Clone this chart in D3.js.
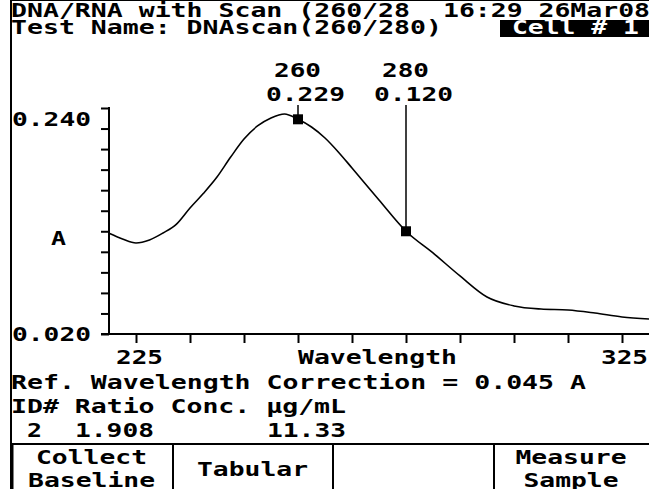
<!DOCTYPE html>
<html>
<head>
<meta charset="utf-8">
<script src="https://cdn.jsdelivr.net/npm/d3@7"></script>
<style>
  body { margin: 0; background: #fff; }
  svg { display: block; }
  text { font-family: "DejaVu Sans Mono", monospace; font-weight: bold; font-size: 20px; fill: #000; }
</style>
</head>
<body>
<div class="chart"></div>
<script>
// UV scan of a DNA/RNA sample: absorbance vs wavelength, instrument screen look

var svgWidth = 649;
var svgHeight = 489;

// scan data
var wavelengths = [225, 227.5, 230, 232.5, 235, 237.5, 240, 242.5, 245, 247.5, 250, 252.5, 255, 257.5,
                   260, 262.5, 265, 267.5, 270, 275, 280, 285, 290, 295, 300, 305, 310, 315, 320, 325];
var absorbance = [0.118, 0.1125, 0.1086, 0.1115, 0.1183, 0.127, 0.1427, 0.157, 0.1728, 0.192, 0.2098, 0.2225, 0.2303, 0.2342,
                  0.229, 0.2215, 0.2108, 0.197, 0.1816, 0.1504, 0.120, 0.0989, 0.0765, 0.056, 0.0473, 0.0443, 0.0434, 0.0404, 0.0366, 0.0346];

// marked readings
var markerWl = [260, 280];
var markerVal = ["0.229", "0.120"];
var markerA = [0.229, 0.120];

// axis ticks and labels
var xTicks = [230, 240, 250, 260, 270, 280, 290, 300, 310, 320];
var yTicks = [0.02, 0.04, 0.06, 0.08, 0.10, 0.12, 0.14, 0.16, 0.18, 0.20, 0.22, 0.24];
var yEndLabels = ["0.240", "0.020"];
var xEndLabels = ["225", "325"];

// buttons along the bottom
var buttons = [["Collect", "Baseline"], ["Tabular"], [], ["Measure", "Sample"]];

var CW = 16;          // character cell width of the screen font
function col(k) { return 11 + CW * k; }

var svg = d3.select(".chart")
  .append("svg")
  .attr("width", svgWidth)
  .attr("height", svgHeight);

// writes a string stretched to the character grid
function put(str, x, y, color, size) {
  return svg.append("text")
    .attr("x", x)
    .attr("y", y)
    .attr("textLength", str.length * CW - 1)
    .attr("lengthAdjust", "spacingAndGlyphs")
    .style("fill", color || "#000")
    .style("font-size", (size || 20) + "px")
    .text(str);
}

// frame
svg.append("line").attr("x1", 11).attr("x2", svgWidth).attr("y1", 0.5).attr("y2", 0.5)
  .attr("stroke", "#000").attr("stroke-width", 1);
svg.append("line").attr("x1", 11).attr("x2", 11).attr("y1", 0).attr("y2", svgHeight)
  .attr("stroke", "#000").attr("stroke-width", 2);

// header
put("DNA/RNA with Scan (260/28", col(0), 17, null, 19);
put("16:29 26Mar08", col(27), 17, null, 19);
put("Test Name: DNAscan(260/280)", col(0), 34, null, 19);
svg.append("rect").attr("x", 500).attr("y", 20).attr("width", svgWidth - 500).attr("height", 17).attr("fill", "#000");
put("Cell # 1", 512, 34, "#fff", 19);

// scales
var xScale = d3.scaleLinear().domain([225, 325]).range([109, 649]);
var yScale = d3.scaleLinear().domain([0.02, 0.24]).range([334, 108]);

// y axis: ticks pointing left
var leftAxis = d3.axisLeft(yScale).tickValues(yTicks).tickSize(8).tickFormat("");
var gy = svg.append("g").attr("transform", "translate(109,0)").call(leftAxis);
gy.select(".domain").remove();
gy.selectAll("line").attr("stroke", "#000").attr("stroke-width", 2);
svg.append("line").attr("x1", 109).attr("x2", 109).attr("y1", 107).attr("y2", 335)
  .attr("stroke", "#000").attr("stroke-width", 2);

// x axis: ticks pointing down
var bottomAxis = d3.axisBottom(xScale).tickValues(xTicks).tickSize(9).tickFormat("");
var gx = svg.append("g").attr("transform", "translate(0,334)").call(bottomAxis);
gx.select(".domain").remove();
gx.selectAll("line").attr("stroke", "#000").attr("stroke-width", 2);
svg.append("line").attr("x1", 101).attr("x2", svgWidth).attr("y1", 334).attr("y2", 334)
  .attr("stroke", "#000").attr("stroke-width", 2);

// axis labels
put(yEndLabels[0], 12, 126);
put("A", 51, 245);
put(yEndLabels[1], 12, 341);
put(xEndLabels[0], 116, 364);
put("Wavelength", 298, 364);
put(xEndLabels[1], svgWidth - 3 * CW, 364);

// spectrum
var scan = wavelengths.map(function(w, i) { return { w: w, a: absorbance[i] }; });
var line = d3.line()
  .x(function(d) { return xScale(d.w); })
  .y(function(d) { return yScale(d.a); })
  .curve(d3.curveMonotoneX);
svg.append("path")
  .datum(scan)
  .attr("d", line)
  .attr("fill", "none")
  .attr("stroke", "#000")
  .attr("stroke-width", 1.6);

// markers with leader lines and readouts
markerWl.forEach(function(w, i) {
  var mx = Math.round(xScale(w));
  var my = yScale(markerA[i]);
  svg.append("line").attr("x1", mx).attr("x2", mx).attr("y1", 105).attr("y2", my)
    .attr("stroke", "#000").attr("stroke-width", 1.5);
  svg.append("rect").attr("x", mx - 5).attr("y", my - 5).attr("width", 10).attr("height", 10).attr("fill", "#000");
  put(String(w), mx - 24, 77);
  put(markerVal[i], mx - 32, 101);
});

// results
put("Ref. Wavelength Correction = 0.045 A", col(0), 389);
put("ID# Ratio Conc. \u00b5g/mL", col(0), 413);
put("2", col(1), 437);
put("1.908", col(4), 437);
put("11.33", col(16), 437);

// button bar
var divX = [11, 173, 333, 494, svgWidth];
svg.append("line").attr("x1", 11).attr("x2", svgWidth).attr("y1", 444).attr("y2", 444)
  .attr("stroke", "#000").attr("stroke-width", 2);
divX.slice(1, 4).forEach(function(x) {
  svg.append("line").attr("x1", x).attr("x2", x).attr("y1", 444).attr("y2", svgHeight)
    .attr("stroke", "#000").attr("stroke-width", 2);
});
svg.append("line").attr("x1", 12).attr("x2", 12).attr("y1", 444).attr("y2", svgHeight)
  .attr("stroke", "#000").attr("stroke-width", 3);
buttons.forEach(function(labels, i) {
  var cx = (divX[i] + divX[i + 1]) / 2;
  if (labels.length === 1) {
    put(labels[0], cx - labels[0].length * CW / 2, 476);
  } else if (labels.length === 2) {
    put(labels[0], cx - labels[0].length * CW / 2, 464);
    put(labels[1], cx - labels[1].length * CW / 2, 487);
  }
});
</script>
</body>
</html>
